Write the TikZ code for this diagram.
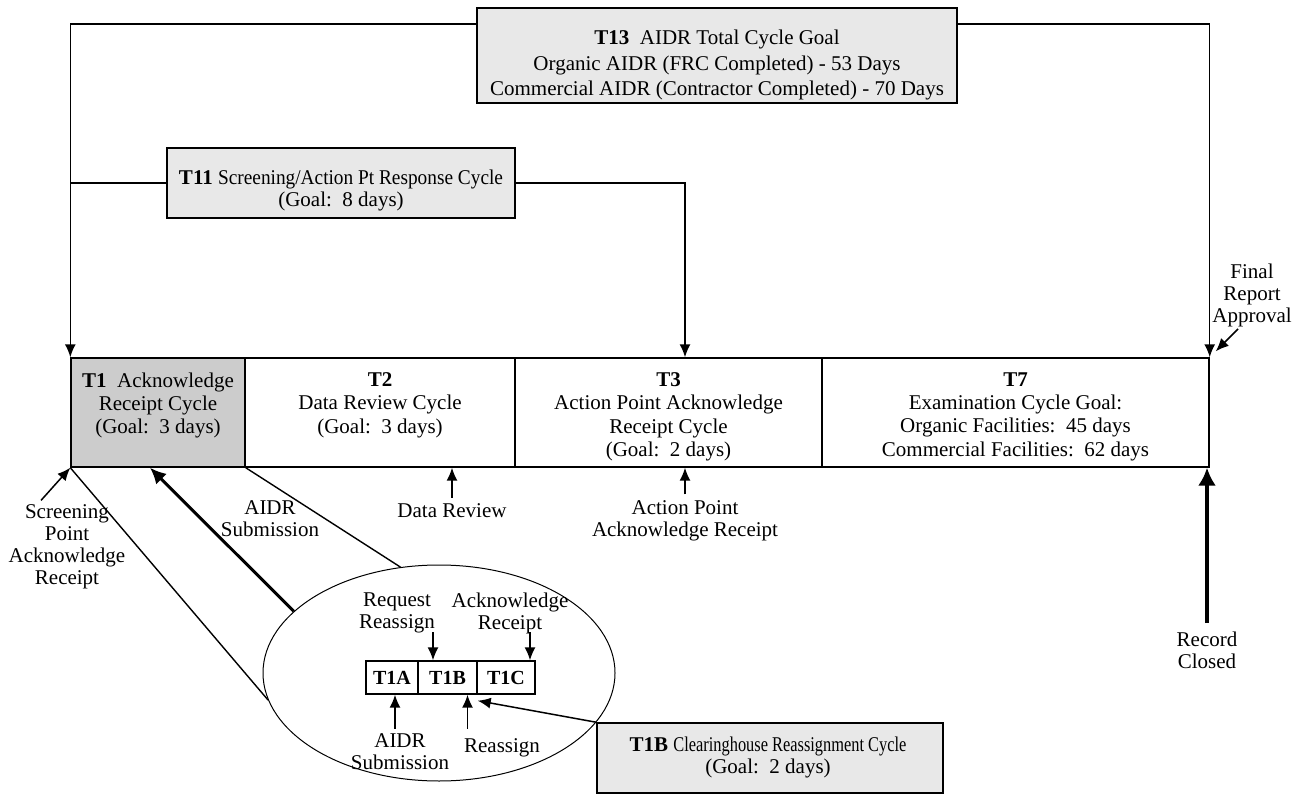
\documentclass[tikz,border=0pt]{standalone}
\usepackage{fontspec}
\setmainfont{Liberation Serif}
\newfontfamily\narrowfont[FakeStretch=0.78]{Liberation Serif}
\newfontfamily\slimfont[FakeStretch=0.92]{Liberation Serif}
\usetikzlibrary{arrows.meta,positioning,shapes.geometric}
\definecolor{boxgray}{gray}{0.91}
\definecolor{cellgray}{gray}{0.8}
\tikzset{
  greybox/.style={draw, line width=0.75pt, fill=boxgray, inner sep=0pt},
  rowcell/.style={draw, line width=0.7pt, minimum height=54.5pt, inner sep=0pt},
  subcell/.style={draw, line width=0.7pt, minimum height=16.5pt, inner sep=0pt, font=\bfseries},
  txt/.style={align=center, inner sep=0pt},
  celltxt/.style={align=center, inner sep=0pt, font=\fontsize{10.5pt}{11.6pt}\selectfont},
  conn/.style={line width=0.75pt, -{Latex[length=6.5pt,width=5.5pt]}},
  fatconn/.style={line width=1.7pt, -{Latex[length=9pt,width=9pt]}},
}
\newcommand{\goal}[1]{(Goal:\ \ #1 days)}

\begin{document}
\begin{tikzpicture}[x=0.5pt, y=-0.5pt, font=\fontsize{10.5pt}{11pt}\selectfont]
        \useasboundingbox (0,0) rectangle (1309,795);

        % top goal boxes
        \node[greybox, minimum width=240pt, minimum height=47.5pt] (t13) at (717,55.5) {};
        \node[txt, font=\fontsize{10.5pt}{12.8pt}\selectfont] (t13txt) at (717,65)
            {\textbf{T13}\ \ AIDR Total Cycle Goal\\Organic AIDR (FRC Completed) - 53 Days\\Commercial AIDR (Contractor Completed) - 70 Days};
        \node[greybox, minimum width=174pt, minimum height=35pt] (t11) at (341,183) {};
        \node[txt] (t11txt) at (341,190) {\textbf{T11} {\slimfont Screening/Action Pt Response Cycle}\\\goal{8}};

        % main row
        \node[rowcell, fill=cellgray, minimum width=87pt] (t1) at (158,412.5) {};
        \node[rowcell, minimum width=135pt] (t2) at (380,412.5) {};
        \node[rowcell, minimum width=153.5pt] (t3) at (668.5,412.5) {};
        \node[rowcell, minimum width=193.5pt] (t7) at (1015.5,412.5) {};
        \node[celltxt, below=7.5pt of t1.north] (t1txt) {\textbf{T1}\ \ Acknowledge\\Receipt Cycle\\\goal{3}};
        \node[celltxt, below=7.5pt of t2.north] (t2txt) {\textbf{T2}\\Data Review Cycle\\\goal{3}};
        \node[celltxt, below=7.5pt of t3.north] (t3txt) {\textbf{T3}\\Action Point Acknowledge\\Receipt Cycle\\\goal{2}};
        \node[celltxt, below=7.5pt of t7.north] (t7txt) {\textbf{T7}\\Examination Cycle Goal:\\Organic Facilities:\ \ 45 days\\Commercial Facilities:\ \ 62 days};

        % cycle connectors
        \draw[conn] ([yshift=-8.5pt]t13.north west) -| (t1.north west);
        \draw[conn] ([yshift=-8.5pt]t13.north east) -| (t7.north east);
        \draw[line width=0.75pt] (t11.west) -- (t11.west -| t1.north west);
        \draw[conn] (t11.east) -| ([xshift=8.25pt]t3.north);

        % events on the row
        \node[txt] (scr) at (67,547) {Screening\\Point\\Acknowledge\\Receipt};
        \node[txt] (fra) at (1252,295) {Final\\Report\\Approval};
        \node[txt] (dr) at (452,511) {Data Review};
        \node[txt] (apar) at (685,521) {Action Point\\Acknowledge Receipt};
        \node[txt] (sub) at (270,519) {AIDR\\Submission};
        \node[txt] (rc) at (1207,650) {Record\\Closed};
        \draw[conn] ([xshift=-13pt,yshift=2pt]scr.north) -- (t1.south west);
        \draw[conn] ([xshift=-7pt,yshift=-1pt]fra.south) -- ([xshift=3pt,yshift=3pt]t7.north east);
        \draw[conn] ([yshift=3pt]dr.north) -- (dr.north |- t2.south);
        \draw[conn] ([yshift=3pt]apar.north) -- (apar.north |- t3.south);
        \draw[fatconn] ([yshift=4pt]rc.north) -- (rc.north |- t7.south);

        % close-up of T1
        \node[draw, ellipse, line width=0.5pt, minimum width=176pt, minimum height=108pt] (ring) at (439,673) {};
        \draw[line width=0.7pt] (t1.south west) -- (ring.189);
        \draw[line width=0.7pt] (t1.south east) -- (ring.110);
        \draw[fatconn, line width=1.5pt, -{Latex[length=8pt,width=7.5pt]}] (ring.157) -- ([xshift=-4pt]t1.south);

        \node[subcell, minimum width=26pt] (t1a) at (392,677.5) {T1A};
        \node[subcell, minimum width=29.5pt] (t1b) at (447.5,677.5) {T1B};
        \node[subcell, minimum width=29pt] (t1c) at (506,677.5) {T1C};
        \node[txt] (rr) at (397,613) {Request\\Reassign};
        \node[txt] (ar) at (510,613) {Acknowledge\\Receipt};
        \node[txt] (sub2) at (400,752) {AIDR\\Submission};
        \node[txt] (ra) at (502,748) {Reassign};
        \draw[conn] ([xshift=-7.25pt,yshift=14pt]t1b.north) -- ([xshift=-7.25pt]t1b.north);
        \draw[conn] ([xshift=12pt,yshift=14pt]t1c.north) -- ([xshift=12pt]t1c.north);
        \draw[conn] ([xshift=1.5pt,yshift=-17pt]t1a.south) -- ([xshift=1.5pt]t1a.south);
        \draw[conn] ([xshift=10pt,yshift=-17pt]t1b.south) -- ([xshift=10pt]t1b.south);

        % reassignment goal
        \node[greybox, minimum width=173pt, minimum height=35pt] (t1bbox) at (770,758) {};
        \node[txt] (t1btxt) at (768,757) {\textbf{T1B} {\narrowfont Clearinghouse Reassignment Cycle}\\\goal{2}};
        \draw[conn] (t1bbox.north west) -- ([yshift=-3pt]t1b.south east);

\end{tikzpicture}
\end{document}
